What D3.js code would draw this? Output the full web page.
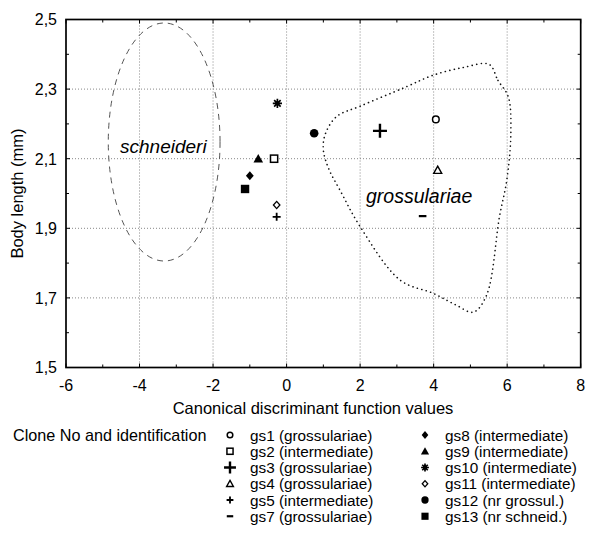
<!DOCTYPE html>
<html>
<head>
<meta charset="utf-8">
<script src="https://cdn.jsdelivr.net/npm/d3@7"></script>
<style>
  html, body { margin: 0; padding: 0; background: #fff; }
  svg { display: block; font-family: "Liberation Sans", Arial, sans-serif; }
</style>
</head>
<body>
<svg id="chart" width="595" height="536"></svg>
<script>
// ---------- data ----------
const clones   = ["gs1", "gs2", "gs3", "gs4", "gs5", "gs7", "gs8", "gs9", "gs10", "gs11", "gs12", "gs13"];
const idents   = ["grossulariae", "intermediate", "grossulariae", "grossulariae", "intermediate", "grossulariae",
                  "intermediate", "intermediate", "intermediate", "intermediate", "nr grossul.", "nr schneid."];
const xValues  = [4.06, -0.34, 2.54, 4.11, -0.27, 3.70, -1.00, -0.77, -0.25, -0.27, 0.75, -1.13];
const yValues  = [2.213, 2.100, 2.180, 2.067, 1.933, 1.935, 2.051, 2.100, 2.259, 1.967, 2.173, 2.013];
const symbols  = ["circleOpen", "squareOpen", "plusBig", "triangleOpen", "plusSmall", "minus",
                  "diamondFilled", "triangleFilled", "asterisk", "diamondOpen", "circleFilled", "squareFilled"];

const xTicks = [-6, -4, -2, 0, 2, 4, 6, 8];
const yTicks = [1.5, 1.7, 1.9, 2.1, 2.3, 2.5];
const xMinor = [-5, -3, -1, 1, 3, 5, 7];
const yMinor = [1.6, 1.8, 2.0, 2.2, 2.4];

// schneideri ellipse (centre x, centre y, radius x, radius y) in data units
const schneideriEllipse = [-3.33, 2.148, 1.52, 0.342];
// grossulariae outline
const grossX = [5.51, 5.75, 6.03, 6.10, 5.99, 5.79, 5.44, 5.08, 4.60, 3.99, 3.09, 2.00, 1.45, 1.15, 1.00, 1.05, 1.36, 2.00, 3.22, 3.99, 4.80];
const grossY = [2.371, 2.325, 2.278, 2.174, 2.039, 1.933, 1.708, 1.659, 1.680, 1.713, 1.751, 1.905, 2.010, 2.070, 2.125, 2.170, 2.221, 2.251, 2.305, 2.340, 2.362];

// ---------- layout ----------
const svg = d3.select("#chart");
const x = d3.scaleLinear().domain([-6, 8]).range([66, 580.7]);
const y = d3.scaleLinear().domain([1.5, 2.5]).range([367.5, 19.5]);
const fmtY = d => d3.format(".1f")(d).replace(".", ",");

// gridlines
const grid = svg.append("g");
grid.selectAll("line.gx").data(xTicks.slice(1, -1)).join("line")
  .attr("x1", d => x(d)).attr("x2", d => x(d))
  .attr("y1", y(2.5)).attr("y2", y(1.5))
  .attr("stroke", "#888").attr("stroke-width", 1).attr("stroke-dasharray", "1,2");
grid.selectAll("line.gy").data(yTicks.slice(1, -1)).join("line")
  .attr("y1", d => y(d)).attr("y2", d => y(d))
  .attr("x1", x(-6)).attr("x2", x(8))
  .attr("stroke", "#888").attr("stroke-width", 1).attr("stroke-dasharray", "1,2");

// frame
svg.append("rect")
  .attr("x", x(-6)).attr("y", y(2.5))
  .attr("width", x(8) - x(-6)).attr("height", y(1.5) - y(2.5))
  .attr("fill", "none").attr("stroke", "#000").attr("stroke-width", 1.7);

// inward ticks (all four sides)
const tk = svg.append("g").attr("stroke", "#000").attr("stroke-width", 1);
[[xTicks, 4], [xMinor, 3]].forEach(([arr, len]) => {
  tk.append("g").selectAll("line").data(arr).join("line")
    .attr("x1", d => x(d)).attr("x2", d => x(d)).attr("y1", y(1.5)).attr("y2", y(1.5) - len);
  tk.append("g").selectAll("line").data(arr).join("line")
    .attr("x1", d => x(d)).attr("x2", d => x(d)).attr("y1", y(2.5)).attr("y2", y(2.5) + len);
});
[[yTicks, 4], [yMinor, 3]].forEach(([arr, len]) => {
  tk.append("g").selectAll("line").data(arr).join("line")
    .attr("y1", d => y(d)).attr("y2", d => y(d)).attr("x1", x(-6)).attr("x2", x(-6) + len);
  tk.append("g").selectAll("line").data(arr).join("line")
    .attr("y1", d => y(d)).attr("y2", d => y(d)).attr("x1", x(8)).attr("x2", x(8) - len);
});

// tick labels
svg.append("g").selectAll("text").data(xTicks).join("text")
  .attr("x", d => x(d)).attr("y", 390.5)
  .attr("text-anchor", "middle").attr("font-size", 16).text(d => String(d));
svg.append("g").selectAll("text").data(yTicks).join("text")
  .attr("x", 57).attr("y", d => y(d) + 5.8)
  .attr("text-anchor", "end").attr("font-size", 16).text(fmtY);

// axis titles
svg.append("text").attr("x", 313).attr("y", 414)
  .attr("text-anchor", "middle").attr("font-size", 16.5)
  .text("Canonical discriminant function values");
svg.append("text")
  .attr("transform", `translate(23,${(y(1.5) + y(2.5)) / 2}) rotate(-90)`)
  .attr("text-anchor", "middle").attr("font-size", 16.5)
  .text("Body length (mm)");

// schneideri ellipse
const [ecx, ecy, erx, ery] = schneideriEllipse;
svg.append("ellipse")
  .attr("cx", x(ecx)).attr("cy", y(ecy))
  .attr("rx", x(ecx + erx) - x(ecx)).attr("ry", y(ecy) - y(ecy + ery))
  .attr("fill", "none").attr("stroke", "#555").attr("stroke-width", 1)
  .attr("stroke-dasharray", "6,5");

// grossulariae outline
const outline = grossX.map((v, i) => [x(v), y(grossY[i])]);
svg.append("path")
  .attr("d", d3.line().curve(d3.curveCatmullRomClosed.alpha(0.5))(outline))
  .attr("fill", "none").attr("stroke", "#111").attr("stroke-width", 1.6)
  .attr("stroke-linecap", "round").attr("stroke-dasharray", "0.1,4.5");

// region labels
svg.append("text").attr("x", 120).attr("y", 153)
  .attr("font-size", 19).attr("font-style", "italic").text("schneideri");
svg.append("text").attr("x", 366).attr("y", 203)
  .attr("font-size", 19.5).attr("font-style", "italic").text("grossulariae");

// ---------- symbols ----------
function drawSymbol(g, type, cx, cy, k) {
  switch (type) {
    case "circleOpen":
      g.append("circle").attr("cx", cx).attr("cy", cy).attr("r", 3.3 * k)
        .attr("fill", "#fff").attr("stroke", "#000").attr("stroke-width", 1.5); break;
    case "circleFilled":
      g.append("circle").attr("cx", cx).attr("cy", cy).attr("r", 4.3 * k).attr("fill", "#000"); break;
    case "squareOpen":
      g.append("rect").attr("x", cx - 3.6 * k).attr("y", cy - 3.6 * k).attr("width", 7.2 * k).attr("height", 7.2 * k)
        .attr("fill", "#fff").attr("stroke", "#000").attr("stroke-width", 1.5); break;
    case "squareFilled":
      g.append("rect").attr("x", cx - 4.2 * k).attr("y", cy - 4.2 * k).attr("width", 8.4 * k).attr("height", 8.4 * k)
        .attr("fill", "#000"); break;
    case "triangleOpen": {
      const r = 4 * k;
      g.append("path").attr("d", `M${cx},${cy - r}L${cx + r},${cy + r * 0.8}L${cx - r},${cy + r * 0.8}Z`)
        .attr("fill", "#fff").attr("stroke", "#000").attr("stroke-width", 1.4); break;
    }
    case "triangleFilled": {
      const r = 4.8 * k;
      g.append("path").attr("d", `M${cx},${cy - r}L${cx + r},${cy + r * 0.8}L${cx - r},${cy + r * 0.8}Z`)
        .attr("fill", "#000"); break;
    }
    case "diamondFilled": {
      const r = 4.6 * k;
      g.append("path").attr("d", `M${cx},${cy - r}L${cx + r * 0.85},${cy}L${cx},${cy + r}L${cx - r * 0.85},${cy}Z`)
        .attr("fill", "#000"); break;
    }
    case "diamondOpen": {
      const r = 3.6 * k;
      g.append("path").attr("d", `M${cx},${cy - r}L${cx + r * 0.9},${cy}L${cx},${cy + r}L${cx - r * 0.9},${cy}Z`)
        .attr("fill", "#fff").attr("stroke", "#000").attr("stroke-width", 1.3); break;
    }
    case "plusBig": {
      const r = 7 * k;
      g.append("path").attr("d", `M${cx - r},${cy}H${cx + r}M${cx},${cy - r}V${cy + r}`)
        .attr("stroke", "#000").attr("stroke-width", 2.4); break;
    }
    case "plusSmall": {
      const r = 4 * k;
      g.append("path").attr("d", `M${cx - r},${cy}H${cx + r}M${cx},${cy - r}V${cy + r}`)
        .attr("stroke", "#000").attr("stroke-width", 1.8); break;
    }
    case "minus": {
      const r = 3.8 * k;
      g.append("path").attr("d", `M${cx - r},${cy}H${cx + r}`)
        .attr("stroke", "#000").attr("stroke-width", 2.2); break;
    }
    case "asterisk": {
      const r = 4.6 * k;
      const d = [0, 45, 90, 135].map(a => {
        const rad = a * Math.PI / 180, dx = r * Math.cos(rad), dy = r * Math.sin(rad);
        return `M${cx - dx},${cy - dy}L${cx + dx},${cy + dy}`;
      }).join("");
      g.append("path").attr("d", d).attr("stroke", "#000").attr("stroke-width", 1.7); break;
    }
  }
}

const pts = svg.append("g");
clones.forEach((c, i) => drawSymbol(pts, symbols[i], x(xValues[i]), y(yValues[i]), 1));

// ---------- legend ----------
const leg = svg.append("g").attr("font-size", 15.3);
leg.append("text").attr("x", 13).attr("y", 440.5).attr("font-size", 16.2).text("Clone No and identification");
const rowH = 16.25;
clones.forEach((c, i) => {
  const col = i < 6 ? 0 : 1;
  const row = i % 6;
  const base = 440.5 + row * rowH;
  const symX = col === 0 ? 230 : 425;
  const txtX = col === 0 ? 250 : 445;
  drawSymbol(leg, symbols[i], symX, base - 5.5, 0.85);
  leg.append("text").attr("x", txtX).attr("y", base).text(`${c} (${idents[i]})`);
});
</script>
</body>
</html>
